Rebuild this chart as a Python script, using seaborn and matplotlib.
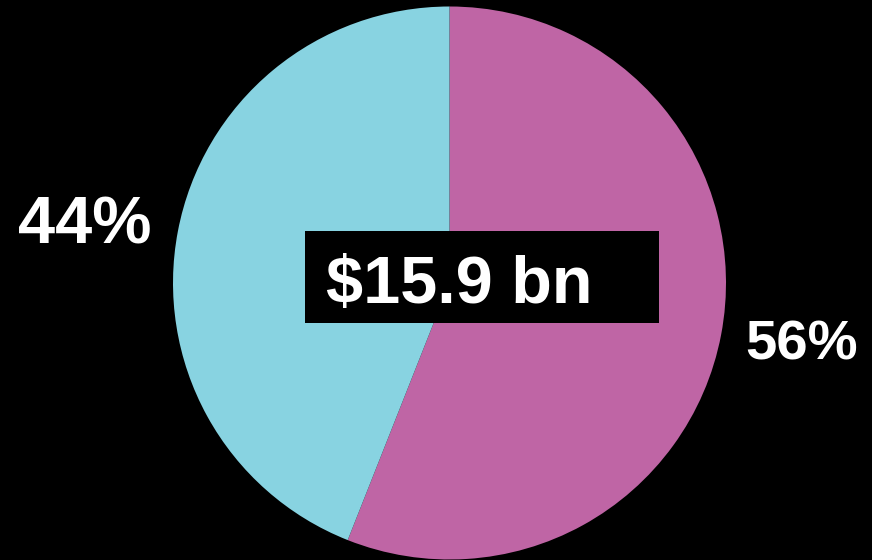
import matplotlib
matplotlib.use("Agg")
import matplotlib.pyplot as plt
import seaborn as sns
from matplotlib.patches import Rectangle

# Data
categories = ["Segment A", "Segment B"]
shares = [56, 44]
share_labels = ["56%", "44%"]
total_label = "$15.9 bn"
colors = ["#BF65A5", "#88D3E1"]

sns.set_theme(style="dark", rc={"figure.facecolor": "black", "axes.facecolor": "black"})
plt.rcParams["font.family"] = ["Liberation Sans", "DejaVu Sans"]

W, H = 872, 560
fig = plt.figure(figsize=(W / 100, H / 100), dpi=100, facecolor="black")
ax = fig.add_axes([0, 0, 1, 1])
ax.set_facecolor("black")

ax.pie(shares, colors=sns.color_palette(colors), startangle=90, counterclock=False,
       center=(449.5, H - 283), radius=276.5,
       wedgeprops=dict(linewidth=0, antialiased=True))

ax.set_xlim(0, W)
ax.set_ylim(0, H)
ax.set_aspect("equal", adjustable="box")
ax.axis("off")

# central label box
ax.add_patch(Rectangle((305, H - 323), 354, 92, facecolor="black", edgecolor="none", zorder=3))
ax.text(326, H - 303, total_label, color="white", fontsize=48, fontweight="bold",
        ha="left", va="baseline", zorder=4)

# percentage labels
ax.text(85, H - 243, share_labels[1], color="white", fontsize=48, fontweight="bold",
        ha="center", va="baseline")
ax.text(801.5, H - 360, share_labels[0], color="white", fontsize=40.5, fontweight="bold",
        ha="center", va="baseline")

fig.savefig("out.png", dpi=100, facecolor="black")
